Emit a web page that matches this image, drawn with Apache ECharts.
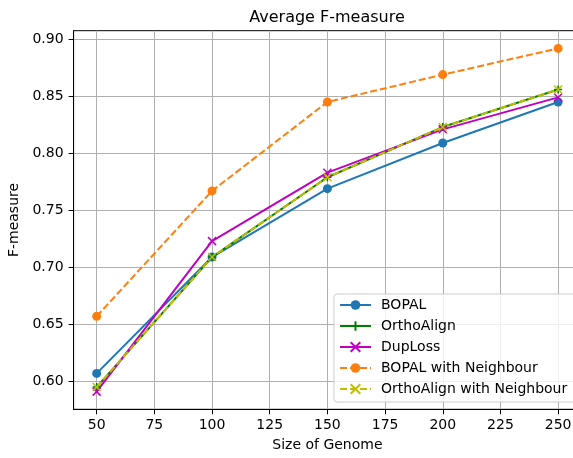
<!DOCTYPE html>
<html>
<head>
<meta charset="utf-8">
<script src="https://cdn.jsdelivr.net/npm/echarts@6/dist/echarts.min.js"></script>
<style>html,body{margin:0;padding:0;background:#fff}#c{width:573px;height:458px}</style>
</head>
<body>
<div id="c"></div>
<script>
var genomeSizes = [50, 100, 150, 200, 250];
var bopal = [0.607, 0.709, 0.769, 0.809, 0.845];
var orthoAlign = [0.595, 0.709, 0.779, 0.823, 0.856];
var dupLoss = [0.591, 0.723, 0.783, 0.821, 0.849];
var bopalNeighbour = [0.657, 0.767, 0.845, 0.869, 0.892];
var orthoAlignNeighbour = [0.595, 0.709, 0.779, 0.823, 0.856];
var xTicks = [50, 75, 100, 125, 150, 175, 200, 225, 250];
var yTicks = [0.60, 0.65, 0.70, 0.75, 0.80, 0.85, 0.90];

var FONT = 'DejaVu Sans';
var PLUS = 'path://M5,0L5,10M0,5L10,5';
var CROSS = 'path://M0,0L10,10M10,0L0,10';

function pairs(vals) { return genomeSizes.map(function (x, i) { return [x, vals[i]]; }); }

function mk(name, vals, color, symbol, dashed, size) {
  var isPath = symbol.indexOf('path://') === 0;
  return {
    name: name, type: 'line', data: pairs(vals),
    symbol: symbol, symbolSize: size, showSymbol: true,
    lineStyle: { color: color, width: 2, type: dashed ? [7, 3] : 'solid' },
    itemStyle: { color: color, borderColor: color, borderWidth: isPath ? 1.5 : 0 },
    emphasis: { disabled: true }, animation: false, z: 3
  };
}

var chart = echarts.init(document.getElementById('c'), null, { renderer: 'canvas' });
chart.setOption({
  animation: false,
  title: {
    text: 'Average F-measure', left: 327, top: 10, textAlign: 'center', padding: 0,
    textStyle: { fontFamily: FONT, fontSize: 16, fontWeight: 'normal', color: '#000' }
  },
  grid: { left: 73.6, top: 30.7, width: 507.6, height: 378.6, outerBoundsMode: 'none', containLabel: false,
    show: true, borderColor: '#000', borderWidth: 1, backgroundColor: 'transparent' },
  xAxis: {
    type: 'value', min: 40, max: 260,
    name: 'Size of Genome', nameLocation: 'middle', nameGap: 29,
    nameTextStyle: { fontFamily: FONT, fontSize: 14, color: '#000' },
    axisLine: { show: true, lineStyle: { color: '#000', width: 1 } },
    axisTick: { show: true, length: 5, lineStyle: { color: '#000', width: 1 }, customValues: xTicks },
    axisLabel: { fontFamily: FONT, fontSize: 14, color: '#000', margin: 9, customValues: xTicks },
    splitLine: { show: true, lineStyle: { color: '#b0b0b0', width: 1 } }
  },
  yAxis: {
    type: 'value', min: 0.5755, max: 0.9075,
    name: 'F-measure', nameLocation: 'middle', nameGap: 45, nameRotate: 90,
    nameTextStyle: { fontFamily: FONT, fontSize: 14, color: '#000' },
    axisLine: { show: true, lineStyle: { color: '#000', width: 1 } },
    axisTick: { show: true, length: 5, lineStyle: { color: '#000', width: 1 }, customValues: yTicks },
    axisLabel: { fontFamily: FONT, fontSize: 14, color: '#000', margin: 10, customValues: yTicks,
      formatter: function (v) { return v.toFixed(2); } },
    splitLine: { show: true, lineStyle: { color: '#b0b0b0', width: 1 } }
  },
  legend: {
    orient: 'vertical', left: 334, top: 294,
    padding: [4, 8, 6, 5], itemGap: 7, itemWidth: 31, itemHeight: 12,
    backgroundColor: 'rgba(255,255,255,0.8)', borderColor: '#cccccc', borderWidth: 1, borderRadius: 3,
    textStyle: { fontFamily: FONT, fontSize: 14, lineHeight: 14, color: '#000', padding: [0, 0, 0, 5] },
    data: ['BOPAL', 'OrthoAlign', 'DupLoss', 'BOPAL with Neighbour', 'OrthoAlign with Neighbour']
  },
  series: [
    mk('BOPAL', bopal, '#1f77b4', 'circle', false, 9),
    mk('OrthoAlign', orthoAlign, '#008000', PLUS, false, 8),
    mk('DupLoss', dupLoss, '#bf00bf', CROSS, false, 8),
    mk('BOPAL with Neighbour', bopalNeighbour, '#ff7f0e', 'circle', true, 9),
    mk('OrthoAlign with Neighbour', orthoAlignNeighbour, '#bfbf00', CROSS, true, 8)
  ]
});
</script>
</body>
</html>
